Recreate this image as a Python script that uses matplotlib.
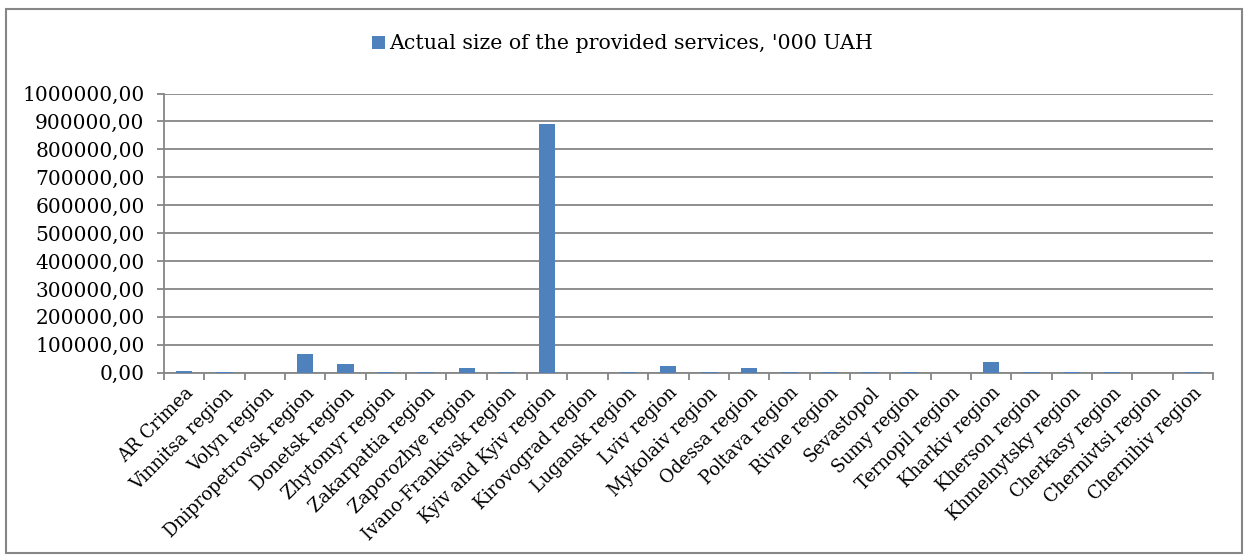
import matplotlib
matplotlib.use("Agg")
import matplotlib.pyplot as plt
from matplotlib.patches import Rectangle
from matplotlib.ticker import FixedLocator, FuncFormatter

regions = [
    "AR Crimea", "Vinnitsa region", "Volyn region", "Dnipropetrovsk region",
    "Donetsk region", "Zhytomyr region", "Zakarpattia region", "Zaporozhye region",
    "Ivano-Frankivsk region", "Kyiv and Kyiv region", "Kirovograd region",
    "Lugansk region", "Lviv region", "Mykolaiv region", "Odessa region",
    "Poltava region", "Rivne region", "Sevastopol", "Sumy region",
    "Ternopil region", "Kharkiv region", "Kherson region", "Khmelnytsky region",
    "Cherkasy region", "Chernivtsi region", "Chernihiv region",
]
services_value = [
    6000, 2500, 400, 65800,
    31700, 2800, 1500, 17000,
    2500, 889000, 400,
    2500, 25600, 2500, 18300,
    3000, 2000, 1000, 2500,
    400, 39000, 3000, 1500,
    3000, 400, 1000,
]
series_name = "Actual size of the provided services, '000 UAH"
y_ticks = [0, 100000, 200000, 300000, 400000, 500000, 600000, 700000, 800000, 900000, 1000000]

plt.rcParams["font.family"] = ["DejaVu Serif"]
GRID = "#868686"
BAR = "#4F81BD"

W, H = 1245, 556
fig = plt.figure(figsize=(W / 100, H / 100), dpi=100)
ax = fig.add_axes([164 / W, 1 - 372.7 / H, (1213 - 164) / W, (372.7 - 93.5) / H])

x = list(range(len(regions)))
ax.bar(x, services_value, width=0.4, color=BAR, label=series_name, zorder=3)

ax.set_xlim(-0.5, len(regions) - 0.5)
ax.set_ylim(0, 1000000)
ax.yaxis.set_major_locator(FixedLocator(y_ticks))
ax.yaxis.set_major_formatter(FuncFormatter(lambda v, p: f"{v:.2f}".replace(".", ",")))
ax.grid(axis="y", color=GRID, linewidth=1.3, zorder=0)
ax.tick_params(axis="y", length=5, width=1.3, color=GRID, labelsize=14.5, pad=9)

ax.set_xticks(x)
ax.set_xticklabels(regions, rotation=45, ha="right", rotation_mode="anchor", fontsize=12.9)
ax.tick_params(axis="x", which="major", length=0, pad=8)
ax.set_xticks([i - 0.5 for i in range(len(regions) + 1)], minor=True)
ax.tick_params(axis="x", which="minor", length=5, width=1.3, color=GRID)

for s in ("top", "right"):
    ax.spines[s].set_visible(False)
for s in ("left", "bottom"):
    ax.spines[s].set_color(GRID)
    ax.spines[s].set_linewidth(1.3)

fig.legend(loc="center", bbox_to_anchor=(0.5, 1 - 44 / H), frameon=False,
           fontsize=14.8, handlelength=0.6, handleheight=0.6, handletextpad=0.2)

fig.patches.append(Rectangle((6 / W, 3.5 / H), (1242 - 6) / W, (547 - 3.5) / H,
                             transform=fig.transFigure, fill=False,
                             edgecolor=GRID, linewidth=1.5))

fig.savefig("out.png", dpi=100)
